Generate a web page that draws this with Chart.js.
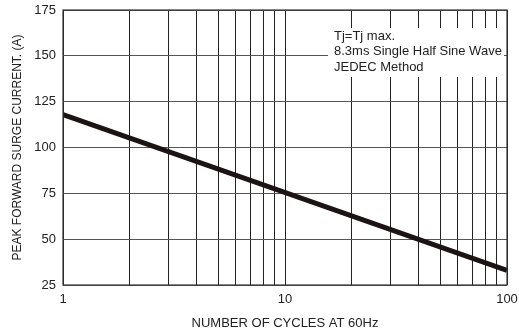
<!DOCTYPE html>
<html>
<head>
<meta charset="utf-8">
<style>
  html, body { margin: 0; padding: 0; background: #fff; }
  #wrap { width: 519px; height: 333px; position: relative; }
</style>
<script src="https://cdn.jsdelivr.net/npm/chart.js@4/dist/chart.umd.min.js"></script>
</head>
<body>
<div id="wrap"><canvas id="c" width="519" height="333"></canvas></div>
<script>
// Surge current derating curve: cycles vs peak forward surge current
const cycles = [1, 100];
const surgeAmps = [118, 33];
const xTickValues = [1, 2, 3, 4, 5, 6, 7, 8, 9, 10, 20, 30, 40, 50, 60, 70, 80, 90, 100];
const xTickLabels = ['1', '10', '100'];
const yTickValues = [25, 50, 75, 100, 125, 150, 175];
const noteLines = ['Tj=Tj max.', '8.3ms Single Half Sine Wave', 'JEDEC Method'];

const FONT = 'Liberation Sans, Arial, sans-serif';

// White note box with the test conditions
const notePlugin = {
  id: 'note',
  afterDatasetsDraw(chart) {
    const ctx = chart.ctx;
    ctx.save();
    ctx.fillStyle = '#fff';
    ctx.fillRect(328, 28, 176, 49);
    ctx.fillStyle = '#222';
    ctx.font = '13px ' + FONT;
    ctx.textBaseline = 'middle';
    ctx.textAlign = 'left';
    noteLines.forEach((t, i) => ctx.fillText(t, 334, 36 + i * 15.5));
    ctx.restore();
  }
};

// Black frame around the plot area
const framePlugin = {
  id: 'frame',
  afterDraw(chart) {
    const a = chart.chartArea, ctx = chart.ctx;
    ctx.save();
    ctx.strokeStyle = '#333';
    ctx.lineWidth = 1.2;
    ctx.strokeRect(a.left, a.top, a.right - a.left, a.bottom - a.top);
    ctx.restore();
  }
};

new Chart(document.getElementById('c'), {
  type: 'line',
  data: {
    datasets: [{
      data: cycles.map((x, i) => ({ x, y: surgeAmps[i] })),
      borderColor: '#1c1414',
      borderWidth: 5,
      pointRadius: 0,
      tension: 0,
      borderCapStyle: 'butt'
    }]
  },
  options: {
    responsive: false,
    animation: false,
    layout: { padding: { top: 10, right: 12, left: 0, bottom: 0 } },
    plugins: { legend: { display: false }, tooltip: { enabled: false } },
    scales: {
      x: {
        type: 'logarithmic',
        min: 1, max: 100,
        afterBuildTicks(s) { s.ticks = xTickValues.map(v => ({ value: v })); },
        afterFit(s) { s.height = 48; s.paddingLeft = 0; s.paddingRight = 0; },
        grid: { color: '#222', lineWidth: 1, drawTicks: false },
        border: { display: false },
        ticks: {
          autoSkip: false, maxRotation: 0, padding: 7,
          color: '#222', font: { family: FONT, size: 13 },
          callback: (v) => xTickLabels.includes(String(v)) ? String(v) : ''
        },
        title: {
          display: true, text: 'NUMBER OF CYCLES AT 60Hz',
          color: '#222', font: { family: FONT, size: 13 }, padding: { top: 0, bottom: 2 }
        }
      },
      y: {
        min: 25, max: 175,
        afterBuildTicks(s) { s.ticks = yTickValues.map(v => ({ value: v })); },
        afterFit(s) { s.width = 63; s.paddingTop = 0; s.paddingBottom = 0; },
        grid: { color: '#555', lineWidth: 1, drawTicks: false },
        border: { display: false },
        ticks: {
          padding: 7, color: '#222', font: { family: FONT, size: 13 }
        },
        title: {
          display: true, text: 'PEAK FORWARD SURGE CURRENT. (A)',
          color: '#222', font: { family: FONT, size: 12 }, padding: { top: 10, bottom: 4 }
        }
      }
    }
  },
  plugins: [notePlugin, framePlugin]
});
</script>
</body>
</html>
